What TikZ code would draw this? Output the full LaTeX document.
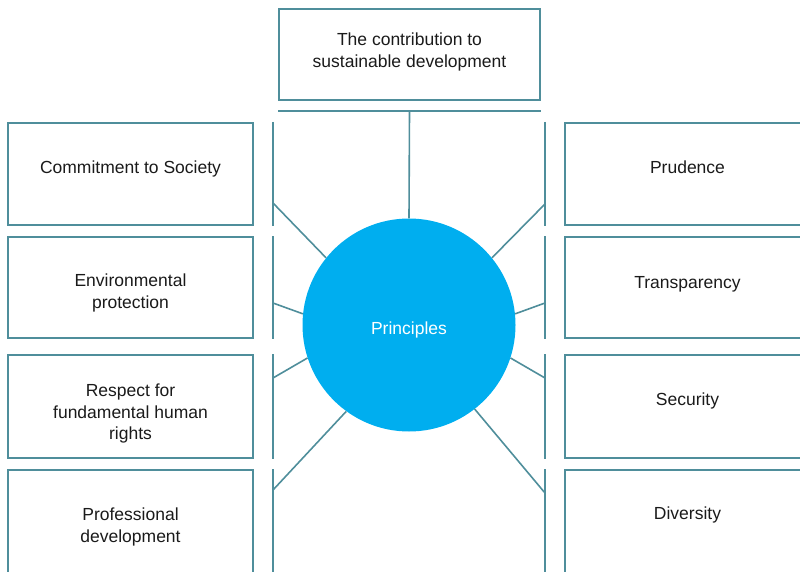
\documentclass[tikz,border=0pt]{standalone}
\usepackage{fontspec}
\setmainfont{Liberation Sans}
\definecolor{lineteal}{HTML}{4F8E9B}
\definecolor{circblue}{HTML}{00AEEF}
\definecolor{textgrey}{HTML}{1A1A1A}
\newcommand{\upby}[1]{\rule[-#1]{0pt}{#1}}
\newcommand{\downby}[1]{\rule{0pt}{#1}}
\tikzset{
	pbox/.style={draw=lineteal, line width=2pt, minimum width=245pt, minimum height=102pt, align=center, text=textgrey, font=\fontsize{17.5}{21.5}\selectfont},
	rail/.style={draw=lineteal, line width=2pt},
	spoke/.style={draw=lineteal, line width=1.6pt}
}

\begin{document}
\begin{tikzpicture}[x=1pt,y=-1pt]
				\clip (0,0) rectangle (800,572);
				\node [pbox, minimum width=261pt, minimum height=91pt] (contrib) at (409.5,54.5) {The contribution to\\sustainable development\upby{8.7pt}};
				\node [circle, fill=circblue, minimum size=213pt, text=white, font=\fontsize{17.5}{21.5}\selectfont] (princ) at (409,325) {\downby{22pt}Principles};
				\node [pbox] (society) at (130.5,174) {Commitment to Society\upby{13.7pt}};
				\node [pbox, minimum height=101pt] (environ) at (130.5,287.5) {\downby{23.8pt}Environmental\\protection};
				\node [pbox, minimum height=103pt] (rights) at (130.5,406.5) {\downby{26.8pt}Respect for\\fundamental human\\rights};
				\node [pbox, minimum height=104pt] (profdev) at (130.5,522) {\downby{22.8pt}Professional\\development};
				\node [pbox] (prudence) at (687.5,174) {Prudence\upby{14pt}};
				\node [pbox, minimum height=101pt] (transp) at (687.5,287.5) {Transparency\upby{10.7pt}};
				\node [pbox, minimum height=103pt] (security) at (687.5,406.5) {Security\upby{13.7pt}};
				\node [pbox, minimum height=104pt] (diversity) at (687.5,522) {Diversity\upby{17.7pt}};
				\foreach \b in {society,environ,rights,profdev}
					\draw [rail] ([xshift=19pt]\b.north east) -- ([xshift=19pt]\b.south east);
				\foreach \b in {prudence,transp,security,diversity}
					\draw [rail] ([xshift=-19pt]\b.north west) -- ([xshift=-19pt]\b.south west);
				\draw [rail] ([yshift=-10pt]contrib.south west) -- ([yshift=-10pt]contrib.south east);
				\draw [spoke] ([yshift=-10pt]contrib.south) -- (princ.north);
				\coordinate (l1) at (273,203);
				\coordinate (l2) at (273,303);
				\coordinate (l3) at (273,378);
				\coordinate (l4) at (273,490);
				\coordinate (r1) at (545,204);
				\coordinate (r2) at (545,303);
				\coordinate (r3) at (545,378);
				\coordinate (r4) at (545,493);
				\draw [spoke] (l1) -- (princ.141);
				\draw [spoke] (l2) -- (princ.174);
				\draw [spoke] (l3) -- (princ.198);
				\draw [spoke] (l4) -- (princ.234);
				\draw [spoke] (r1) -- (princ.39);
				\draw [spoke] (r2) -- (princ.6);
				\draw [spoke] (r3) -- (princ.-18);
				\draw [spoke] (r4) -- (princ.-52);
			\end{tikzpicture}
\end{document}
